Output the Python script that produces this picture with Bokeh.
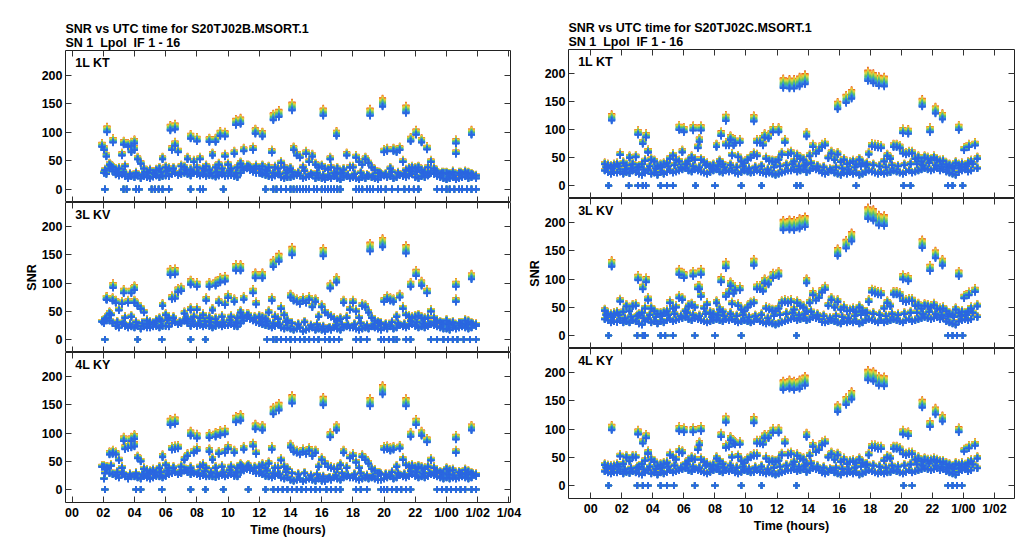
from bokeh.plotting import figure
from bokeh.layouts import row, column
from bokeh.models import Range1d, LinearAxis, FixedTicker, Title, Label, ColumnDataSource
from bokeh.embed import file_html
from bokeh.resources import INLINE

FONT = "Liberation Sans"

# ---------------- IF channels (gain spread and colour) ----------------
IF_GAIN = [1.05, 1.045, 1.04, 1.035, 1.03, 1.02, 1.01, 1.0,
           0.99, 0.98, 0.975, 0.97, 0.965, 0.96, 0.955, 0.95]
IF_COLORS = ["#e2501c", "#f07f20", "#f59f25", "#f2b62d", "#e9cd3a", "#c9d545",
             "#9ccd4f", "#6cc35c", "#4cbb7c", "#3fb39f", "#3aa9bd", "#3a9cd1",
             "#3a8ddc", "#357fe0", "#2f72e2", "#2a66e0"]

X_TICKS = [0, 2, 4, 6, 8, 10, 12, 14, 16, 18, 20, 22, 24, 26, 28]
X_TICK_LABELS = ["00", "02", "04", "06", "08", "10", "12", "14", "16", "18",
                 "20", "22", "1/00", "1/02", "1/04"]
Y_TICKS = [0, 50, 100, 150, 200]

# ---------------- left file: S20TJ02B ----------------
L_BAND_T = [
    2.05, 2.2, 2.4, 2.6, 2.8, 3.0, 3.2, 3.4, 3.6, 3.8,
    4.0, 4.2, 4.4, 4.6, 4.8, 5.0, 5.2, 5.4, 5.6, 5.8,
    6.0, 6.2, 6.4, 6.6, 6.8, 7.0, 7.2, 7.4, 7.6, 7.8,
    8.0, 8.2, 8.4, 8.6, 8.8, 9.0, 9.2, 9.4, 9.6, 9.8,
    10.0, 10.2, 10.4, 10.6, 10.8, 11.0, 11.2, 11.4, 11.6, 11.8,
    12.0, 12.2, 12.4, 12.6, 12.8, 13.0, 13.2, 13.4, 13.6, 13.8,
    14.0, 14.2, 14.4, 14.6, 14.8, 15.0, 15.2, 15.4, 15.6, 15.8,
    16.0, 16.2, 16.4, 16.6, 16.8, 17.0, 17.2, 17.4, 17.6, 17.8,
    18.0, 18.2, 18.4, 18.6, 18.8, 19.0, 19.2, 19.4, 19.6, 19.8,
    20.0, 20.2, 20.4, 20.6, 20.8, 21.0, 21.2, 21.4, 21.6, 21.8,
    22.0, 22.2, 22.4, 22.6, 22.8, 23.0, 23.2, 23.4, 23.6, 23.8,
    24.0, 24.2, 24.4, 24.6, 24.8, 25.0, 25.2, 25.4, 25.6, 25.9,
]
L_MID_T = [
    2.1, 2.5, 2.9, 3.3, 3.7, 4.1, 4.5, 4.9, 5.3, 5.7,
    6.1, 6.5, 6.9, 7.3, 7.7, 8.1, 8.5, 8.9, 9.3, 9.7,
    10.1, 10.5, 10.9, 11.3, 11.7, 12.1, 12.5, 12.9, 13.3, 13.7,
    14.1, 14.5, 14.9, 15.3, 15.7, 16.1, 16.5, 16.9, 17.3, 17.7,
    18.1, 18.5, 18.9, 19.3, 19.7, 20.1, 20.5, 20.9, 21.3, 21.7,
    22.1, 22.5, 22.9, 23.3, 23.7, 24.1, 24.5, 24.9, 25.3, 25.7,
]
L_BRIGHT_T = [1.92, 2.24, 2.63, 3.31, 3.8, 4.0, 6.3, 6.6, 7.6, 8.0, 8.8, 9.2, 9.5,
              9.8, 10.5, 10.8, 11.75, 12.2, 12.9, 13.25, 14.1, 16.1, 16.55, 16.95,
              19.1, 19.9, 21.4, 21.7, 22.05, 22.4, 22.75, 24.6, 25.6]

KT_L_LO = [
    30, 28, 38, 33, 27, 25, 27, 24, 20, 24,
    22, 25, 20, 24, 22, 20, 23, 25, 22, 24,
    25, 24, 28, 30, 26, 28, 30, 28, 25, 30,
    28, 25, 27, 24, 26, 25, 23, 25, 27, 24,
    25, 26, 24, 22, 30, 35, 38, 35, 32, 30,
    30, 28, 26, 24, 22, 25, 28, 22, 20, 22,
    22, 24, 26, 25, 20, 22, 24, 26, 20, 22,
    20, 18, 22, 20, 24, 20, 18, 22, 24, 20,
    22, 20, 18, 22, 20, 24, 22, 20, 18, 22,
    25, 22, 24, 20, 22, 26, 24, 22, 25, 28,
    22, 20, 24, 22, 25, 30, 28, 24, 22, 20,
    18, 20, 22, 18, 20, 22, 24, 20, 22, 20,
]
KT_L_MID = [
    35, 42, 30, 32, 28, 30, 27, 30, 28, 32,
    34, 38, 30, 36, 32, 30, 34, 30, 32, 30,
    34, 30, 40, 42, 38, 30, 34, 30, 28, 30,
    32, 30, 34, 28, 30, 26, 24, 28, 30, 26,
    28, 30, 26, 24, 30, 28, 32, 30, 28, 34,
    32, 30, 28, 34, 30, 28, 26, 30, 28, 26,
]
KT_L_HI = [
    72, 60, 45, 40, 36, 38, 62, 42, 78, 68,
    72, 55, 47, 38, 32, 35, 30, 35, 38, 55,
    40, 38, 72, 80, 68, 42, 40, 55, 36, 50,
    40, 55, 38, 42, 36, 62, 40, 45, 38, 60,
    45, 38, 65, 40, 47, 70, 42, 40, 72, 42,
    38, 42, 36, 40, 67, 40, 38, 48, 40, 35,
    38, 72, 62, 58, 40, 65, 50, 60, 45, 40,
    42, 38, 36, 40, 30, 38, 30, 36, 62, 40,
    40, 58, 50, 45, 55, 48, 40, 35, 30, 28,
    68, 70, 38, 70, 68, 72, 50, 35, 38, 40,
    38, 40, 35, 32, 40, 50, 38, 30, 28, 30,
    30, 28, 32, 65, 30, 28, 32, 30, 28, 25,
]
KT_L_BRIGHT = [78, 105, 86, 82, 80, 84, 108, 110, 93, 88, 87, 87, 98, 97, 118, 120,
               102, 97, 127, 133, 145, 135, 55, 98, 135, 152, 140, 88, 100, 86, 73, 84, 100]
KT_L_ZERO = [2.1, 3.3, 3.5, 4.1, 4.3, 5.1, 5.3, 5.55, 5.8, 6.2, 7.6, 8.2, 8.4, 9.7, 12.4,
             12.9, 13.1, 13.4, 13.7, 14.0, 14.2, 14.4, 14.6, 14.8, 15.0, 15.2, 15.5, 15.7,
             16.0, 16.2, 16.4, 16.6, 16.8, 17.0, 17.2, 18.2, 18.4, 18.6, 18.9, 19.1, 19.3,
             19.6, 19.8, 20.1, 20.5, 20.9, 21.3, 21.6, 21.9, 22.2, 23.4, 23.7, 24.0, 24.2,
             24.5, 24.8, 25.0, 25.3, 25.6, 25.9]

KV_L_LO = [
    30, 40, 35, 30, 25, 22, 28, 25, 22, 24,
    22, 25, 20, 24, 22, 22, 24, 25, 22, 25,
    25, 24, 30, 32, 28, 30, 35, 30, 25, 28,
    25, 27, 24, 26, 25, 22, 25, 27, 24, 26,
    26, 28, 25, 24, 30, 35, 40, 38, 35, 32,
    30, 28, 26, 25, 22, 25, 28, 22, 20, 22,
    20, 18, 20, 22, 15, 18, 20, 22, 18, 20,
    18, 15, 20, 18, 22, 20, 18, 22, 24, 22,
    22, 20, 18, 20, 22, 20, 24, 22, 20, 18,
    22, 20, 24, 20, 22, 26, 24, 22, 25, 28,
    25, 22, 24, 22, 25, 28, 26, 24, 22, 20,
    20, 18, 22, 20, 22, 24, 22, 20, 22, 25,
]
KV_L_MID = [
    38, 45, 32, 30, 28, 32, 30, 28, 30, 34,
    36, 40, 32, 38, 34, 30, 34, 32, 30, 32,
    36, 32, 42, 45, 40, 32, 34, 30, 28, 32,
    30, 28, 32, 26, 28, 24, 22, 26, 28, 26,
    28, 30, 26, 25, 30, 28, 32, 30, 28, 34,
    32, 30, 28, 32, 30, 28, 26, 30, 28, 28,
]
KV_L_HI = [
    33, 74, 48, 72, 68, 54, 66, 40, 68, 42,
    68, 62, 57, 50, 35, 32, 30, 35, 38, 62,
    45, 40, 75, 76, 88, 90, 48, 38, 55, 42,
    55, 40, 45, 72, 40, 54, 38, 68, 42, 64,
    77, 42, 70, 40, 50, 74, 45, 40, 86, 65,
    42, 40, 38, 50, 72, 42, 38, 57, 45, 35,
    78, 72, 70, 66, 72, 68, 74, 60, 70, 42,
    60, 50, 45, 42, 38, 35, 38, 68, 40, 55,
    68, 52, 40, 62, 60, 50, 40, 35, 32, 30,
    70, 75, 72, 70, 42, 78, 57, 45, 42, 40,
    42, 44, 40, 38, 40, 52, 40, 35, 32, 30,
    35, 30, 32, 70, 30, 28, 35, 33, 30, 28,
]
KV_L_BRIGHT = [33, 74, 96, 86, 86, 92, 120, 121, 102, 98, 98, 100, 106, 108, 128, 128,
               114, 114, 135, 145, 157, 155, 95, 106, 164, 172, 160, 98, 118, 100, 86, 98, 112]
KV_L_ZERO = [2.1, 4.2, 5.75, 7.6, 8.55, 12.5, 12.9, 13.1, 13.4, 13.7, 14.0, 14.3, 14.6,
             14.9, 15.2, 15.5, 15.8, 16.2, 16.5, 16.8, 17.1, 18.2, 18.5, 18.9, 19.8, 20.0,
             20.3, 20.6, 20.8, 21.4, 21.7, 23.0, 23.4, 23.8, 24.1, 24.4, 24.7, 25.1, 25.5, 25.9]

KY_L_LO = [
    20, 38, 30, 28, 25, 22, 28, 24, 20, 24,
    24, 22, 20, 25, 22, 20, 22, 25, 24, 22,
    25, 28, 30, 32, 28, 30, 35, 32, 28, 30,
    28, 25, 26, 24, 25, 24, 23, 25, 27, 24,
    26, 28, 25, 24, 32, 35, 38, 36, 34, 30,
    30, 28, 25, 24, 22, 25, 28, 22, 20, 22,
    18, 16, 18, 20, 15, 18, 20, 18, 16, 20,
    16, 15, 20, 18, 22, 20, 18, 22, 24, 22,
    22, 20, 18, 20, 22, 20, 22, 20, 18, 18,
    20, 22, 24, 20, 22, 26, 24, 22, 25, 28,
    25, 22, 24, 22, 25, 28, 26, 24, 22, 20,
    22, 20, 22, 20, 22, 24, 22, 20, 22, 25,
]
KY_L_MID = [
    30, 44, 32, 30, 28, 30, 28, 30, 28, 32,
    35, 40, 32, 36, 33, 30, 34, 32, 30, 32,
    36, 32, 42, 44, 40, 32, 35, 30, 28, 32,
    30, 28, 30, 26, 28, 24, 22, 26, 30, 26,
    28, 30, 26, 24, 30, 28, 32, 30, 28, 34,
    32, 30, 30, 32, 30, 28, 26, 30, 28, 28,
]
KY_L_HI = [
    42, 40, 65, 66, 65, 54, 40, 75, 77, 78,
    80, 58, 52, 38, 35, 33, 36, 32, 40, 60,
    45, 40, 74, 75, 76, 42, 55, 62, 40, 68,
    72, 42, 45, 40, 70, 55, 40, 66, 42, 68,
    75, 42, 68, 40, 45, 74, 42, 40, 80, 66,
    42, 45, 40, 48, 74, 40, 40, 54, 42, 38,
    78, 70, 68, 65, 70, 66, 72, 62, 68, 42,
    55, 48, 42, 40, 38, 38, 45, 68, 40, 58,
    62, 50, 40, 60, 55, 48, 38, 35, 30, 28,
    74, 75, 72, 74, 42, 76, 55, 45, 42, 44,
    40, 42, 40, 38, 42, 54, 40, 35, 32, 30,
    38, 35, 36, 68, 32, 30, 36, 33, 30, 28,
]
KY_L_BRIGHT = [42, 40, 68, 90, 90, 94, 120, 122, 100, 95, 96, 98, 101, 103, 125, 128,
               112, 110, 140, 147, 160, 157, 97, 110, 155, 177, 155, 98, 120, 100, 88, 93, 110]
KY_L_ZERO = [2.1, 4.1, 4.4, 5.75, 7.6, 8.55, 9.7, 11.3, 12.4, 12.9, 13.2, 13.5, 13.8, 14.1,
             14.4, 14.7, 15.0, 15.3, 15.6, 15.9, 16.3, 16.6, 16.9, 17.2, 18.2, 18.5, 18.9,
             19.8, 20.0, 20.2, 20.5, 20.8, 21.1, 21.4, 21.7, 23.4, 23.7, 24.0, 24.3, 24.6,
             24.9, 25.2, 25.6, 25.9]

# ---------------- right file: S20TJ02C ----------------
R_BAND_T = [
    0.9, 1.1, 1.3, 1.5, 1.7, 1.9, 2.1, 2.3, 2.5, 2.7,
    2.9, 3.1, 3.3, 3.5, 3.7, 3.9, 4.1, 4.3, 4.5, 4.7,
    4.9, 5.1, 5.3, 5.5, 5.7, 5.9, 6.1, 6.3, 6.5, 6.7,
    6.9, 7.1, 7.3, 7.5, 7.7, 7.9, 8.1, 8.3, 8.5, 8.7,
    8.9, 9.1, 9.3, 9.5, 9.7, 9.9, 10.1, 10.3, 10.5, 10.7,
    10.9, 11.1, 11.3, 11.5, 11.7, 11.9, 12.1, 12.3, 12.5, 12.7,
    12.9, 13.1, 13.3, 13.5, 13.7, 13.9, 14.1, 14.3, 14.5, 14.7,
    14.9, 15.1, 15.3, 15.5, 15.7, 15.9, 16.1, 16.3, 16.5, 16.7,
    16.9, 17.1, 17.3, 17.5, 17.7, 17.9, 18.1, 18.3, 18.5, 18.7,
    18.9, 19.1, 19.3, 19.5, 19.7, 19.9, 20.1, 20.3, 20.5, 20.7,
    20.9, 21.1, 21.3, 21.5, 21.7, 21.9, 22.1, 22.3, 22.5, 22.7,
    22.9, 23.1, 23.3, 23.5, 23.7, 23.9, 24.1, 24.3, 24.5, 24.9,
]
R_MID_T = [
    1.0, 1.4, 1.8, 2.2, 2.6, 3.0, 3.4, 3.8, 4.2, 4.6,
    5.0, 5.4, 5.8, 6.2, 6.6, 7.0, 7.4, 7.8, 8.2, 8.6,
    9.0, 9.4, 9.8, 10.2, 10.6, 11.0, 11.4, 11.8, 12.2, 12.6,
    13.0, 13.4, 13.8, 14.2, 14.6, 15.0, 15.4, 15.8, 16.2, 16.6,
    17.0, 17.4, 17.8, 18.2, 18.6, 19.0, 19.4, 19.8, 20.2, 20.6,
    21.0, 21.4, 21.8, 22.2, 22.6, 23.0, 23.4, 23.8, 24.2, 24.6,
]
R_BRIGHT_T = [1.35, 3.05, 3.35, 3.57, 3.7, 5.7, 6.0, 6.6, 7.0, 7.1, 8.4, 8.7, 9.0, 9.2,
              9.6, 10.5, 10.7, 11.2, 11.45, 11.75, 12.1, 12.4, 12.8, 13.1, 13.45, 13.8,
              13.9, 15.9, 16.45, 16.8, 17.85, 18.2, 18.55, 18.9, 20.1, 20.45, 21.35,
              21.85, 22.2, 22.65, 23.7, 24.05, 24.35, 24.75]

KT_R_LO = [
    28, 25, 22, 25, 24, 26, 22, 25, 23, 28,
    25, 22, 20, 24, 28, 22, 24, 20, 25, 22,
    25, 28, 24, 26, 28, 30, 32, 28, 26, 30,
    28, 26, 24, 22, 25, 28, 30, 26, 24, 28,
    26, 28, 24, 22, 25, 28, 26, 24, 25, 28,
    25, 24, 22, 24, 22, 20, 22, 24, 26, 28,
    28, 30, 26, 28, 30, 25, 28, 32, 30, 28,
    24, 22, 25, 28, 24, 22, 20, 24, 22, 25,
    22, 24, 20, 22, 25, 28, 26, 24, 22, 25,
    22, 24, 25, 28, 26, 24, 22, 25, 28, 24,
    26, 28, 30, 32, 30, 28, 30, 32, 28, 30,
    26, 24, 22, 20, 25, 28, 30, 26, 28, 32,
]
KT_R_MID = [
    34, 32, 36, 30, 32, 34, 30, 36, 32, 34,
    36, 38, 34, 40, 36, 34, 38, 32, 36, 34,
    38, 34, 36, 32, 34, 36, 30, 34, 36, 38,
    40, 36, 38, 42, 36, 34, 30, 34, 32, 30,
    34, 36, 40, 38, 36, 34, 38, 36, 38, 40,
    40, 38, 42, 38, 36, 34, 32, 34, 36, 40,
]
KT_R_HI = [
    40, 38, 36, 38, 40, 57, 42, 38, 52, 40,
    53, 35, 40, 46, 62, 48, 45, 36, 38, 40,
    42, 50, 56, 48, 45, 62, 40, 46, 52, 48,
    70, 48, 44, 40, 36, 38, 72, 45, 40, 75,
    75, 56, 80, 53, 45, 42, 48, 52, 57, 55,
    80, 75, 50, 46, 45, 44, 48, 58, 80, 57,
    60, 45, 55, 50, 48, 40, 55, 72, 60, 65,
    72, 75, 51, 60, 48, 58, 44, 48, 40, 42,
    45, 40, 48, 42, 38, 58, 73, 72, 71, 70,
    45, 55, 50, 72, 72, 70, 60, 58, 60, 60,
    50, 52, 45, 52, 50, 48, 52, 48, 45, 46,
    40, 38, 35, 42, 38, 40, 35, 42, 45, 50,
]
KT_R_BRIGHT = [122, 95, 78, 90, 62, 104, 100, 103, 82, 103, 93, 121, 86, 75, 80, 120, 80,
               90, 88, 100, 100, 183, 182, 182, 186, 190, 92, 143, 155, 163, 196, 192, 187,
               186, 98, 97, 148, 100, 135, 124, 104, 66, 72, 75]
KT_R_ZERO = [1.15, 2.45, 3.05, 3.35, 3.55, 4.5, 4.9, 5.3, 6.75, 8.0, 9.7, 11.0, 13.25,
             13.5, 17.1, 20.15, 20.6, 23.0, 23.3, 23.95]

KV_R_LO = [
    30, 28, 24, 26, 25, 28, 24, 26, 24, 28,
    26, 22, 20, 26, 30, 24, 26, 22, 26, 24,
    28, 30, 26, 28, 30, 32, 34, 30, 28, 32,
    30, 28, 26, 24, 26, 28, 30, 28, 26, 30,
    28, 30, 26, 24, 26, 28, 26, 24, 26, 30,
    26, 24, 22, 24, 22, 20, 22, 24, 26, 28,
    30, 32, 28, 30, 32, 28, 30, 34, 32, 30,
    25, 24, 26, 28, 26, 24, 22, 26, 24, 26,
    24, 26, 22, 24, 28, 30, 28, 26, 24, 28,
    24, 26, 28, 30, 28, 26, 24, 28, 30, 26,
    28, 30, 32, 34, 32, 30, 32, 34, 30, 32,
    26, 24, 22, 20, 26, 28, 30, 28, 30, 34,
]
KV_R_MID = [
    38, 34, 38, 32, 35, 36, 32, 38, 34, 36,
    38, 40, 36, 42, 38, 36, 40, 34, 38, 36,
    40, 36, 38, 34, 36, 38, 32, 36, 38, 40,
    42, 38, 40, 44, 38, 36, 32, 36, 34, 32,
    36, 38, 42, 40, 38, 36, 40, 38, 40, 42,
    42, 40, 44, 40, 38, 36, 34, 36, 38, 42,
]
KV_R_HI = [
    46, 40, 38, 40, 42, 63, 44, 54, 45, 54,
    55, 38, 42, 50, 65, 50, 45, 40, 40, 42,
    45, 60, 50, 52, 69, 66, 45, 54, 56, 52,
    86, 72, 50, 57, 42, 40, 60, 48, 44, 72,
    78, 58, 84, 55, 48, 45, 52, 58, 60, 86,
    86, 82, 50, 48, 46, 45, 50, 60, 62, 60,
    62, 48, 60, 55, 52, 45, 60, 75, 65, 70,
    80, 85, 55, 66, 52, 62, 48, 52, 45, 46,
    48, 44, 52, 46, 42, 62, 80, 78, 76, 75,
    50, 60, 54, 76, 76, 74, 64, 62, 64, 64,
    55, 56, 50, 55, 54, 52, 56, 50, 48, 50,
    45, 40, 38, 48, 42, 44, 38, 45, 50, 54,
]
KV_R_BRIGHT = [128, 103, 86, 99, 66, 113, 107, 110, 86, 113, 99, 125, 92, 78, 84, 130, 86,
               97, 95, 107, 110, 196, 197, 196, 199, 202, 97, 148, 162, 175, 217, 214, 205,
               204, 104, 101, 163, 120, 144, 130, 110, 69, 75, 81]
KV_R_ZERO = [1.15, 3.0, 3.35, 3.5, 4.5, 4.8, 5.3, 6.7, 8.0, 9.7, 13.25, 23.0, 23.3, 23.6, 23.95]

KY_R_LO = [
    26, 24, 22, 25, 24, 26, 22, 25, 23, 26,
    24, 22, 20, 24, 28, 22, 24, 20, 24, 22,
    25, 28, 24, 26, 28, 30, 32, 28, 26, 30,
    28, 26, 24, 22, 25, 28, 30, 26, 24, 28,
    26, 28, 24, 22, 25, 28, 26, 24, 25, 28,
    25, 24, 22, 24, 22, 20, 22, 24, 26, 28,
    28, 30, 26, 28, 30, 25, 28, 32, 30, 28,
    24, 22, 25, 28, 24, 22, 20, 24, 22, 25,
    22, 24, 20, 22, 25, 28, 26, 24, 22, 25,
    22, 24, 25, 28, 26, 24, 22, 25, 28, 24,
    26, 28, 30, 32, 30, 28, 30, 32, 28, 30,
    26, 24, 22, 20, 25, 28, 30, 26, 28, 32,
]
KY_R_MID = [
    33, 31, 35, 30, 32, 33, 30, 35, 31, 33,
    35, 37, 33, 39, 35, 33, 37, 31, 35, 33,
    37, 33, 35, 31, 33, 35, 30, 33, 35, 37,
    39, 35, 37, 41, 35, 33, 30, 33, 31, 30,
    33, 35, 39, 37, 35, 33, 37, 35, 37, 39,
    39, 37, 41, 37, 35, 33, 31, 33, 35, 39,
]
KY_R_HI = [
    38, 36, 35, 36, 38, 54, 40, 52, 45, 52,
    52, 35, 40, 46, 58, 48, 44, 36, 38, 40,
    42, 56, 52, 48, 62, 60, 40, 46, 50, 48,
    66, 48, 44, 40, 36, 38, 50, 45, 40, 70,
    72, 52, 76, 53, 45, 42, 48, 52, 55, 55,
    78, 76, 50, 44, 45, 44, 46, 56, 78, 56,
    58, 44, 55, 50, 48, 40, 55, 72, 62, 66,
    75, 78, 52, 58, 48, 56, 44, 48, 40, 44,
    45, 42, 48, 42, 38, 56, 70, 70, 68, 68,
    46, 52, 50, 68, 68, 66, 58, 56, 58, 58,
    48, 50, 45, 48, 46, 46, 48, 46, 44, 44,
    40, 38, 35, 40, 38, 40, 36, 42, 45, 50,
]
KY_R_BRIGHT = [103, 95, 78, 88, 60, 101, 99, 99, 75, 101, 90, 117, 84, 78, 76, 116, 78,
               88, 88, 98, 98, 178, 180, 178, 180, 186, 90, 137, 150, 160, 196, 194, 186,
               185, 95, 92, 145, 109, 132, 119, 99, 63, 69, 74]
KY_R_ZERO = [1.15, 3.0, 3.35, 3.7, 4.5, 4.9, 5.35, 6.7, 8.0, 9.7, 11.0, 13.25, 20.15,
             20.7, 23.0, 23.3, 23.6, 23.9]


def build_source(band_t, lo, hi, mid_t, mid, bright_t, bright, zeros):
    xs, ys, cs = [], [], []
    for g, col in zip(IF_GAIN, IF_COLORS):
        for t, v in zip(band_t, lo):
            xs.append(t); ys.append(v * g); cs.append(col)
        for t, v in zip(mid_t, mid):
            xs.append(t); ys.append(v * g); cs.append(col)
        for t, v in zip(band_t, hi):
            xs.append(t); ys.append(v * g); cs.append(col)
        for t, v in zip(bright_t, bright):
            xs.append(t); ys.append(v * g); cs.append(col)
        for t in zeros:
            xs.append(t); ys.append(0.0); cs.append(col)
    return ColumnDataSource(dict(x=xs, y=ys, c=cs))


def axis(ticks, show, overrides=None, label=None):
    ax = LinearAxis(ticker=FixedTicker(ticks=ticks))
    ax.major_tick_in = 6
    ax.major_tick_out = 0
    ax.minor_tick_line_color = None
    ax.axis_line_color = None
    ax.major_tick_line_color = "#333333"
    ax.major_tick_line_width = 1
    ax.major_label_text_font = FONT
    ax.major_label_text_font_style = "bold"
    if show:
        ax.major_label_text_color = "black"
        ax.major_label_text_font_size = "12.5px"
        ax.major_label_standoff = 3
    else:
        ax.major_label_text_color = None
        ax.major_label_text_font_size = "0px"
        ax.major_label_standoff = 0
    if overrides:
        ax.major_label_overrides = overrides
    if label:
        ax.axis_label = label
        ax.axis_label_text_font = FONT
        ax.axis_label_text_font_style = "bold"
        ax.axis_label_text_font_size = "12.5px"
        ax.axis_label_text_color = "black"
        ax.axis_label_standoff = 0
    return ax


def make_fig(src, name, xr, width, height, mbl, mbr, mbt, mbb, bottom=False, ylabel=None,
             title=None):
    p = figure(width=width, height=height, x_range=Range1d(*xr), y_range=Range1d(-23, 243),
               output_backend="svg", toolbar_location=None,
               x_axis_location=None, y_axis_location=None,
               min_border_left=mbl, min_border_right=mbr,
               min_border_top=mbt, min_border_bottom=mbb,
               background_fill_color="white", border_fill_color="white",
               outline_line_color="#222222", outline_line_width=1)
    p.grid.visible = False
    p.add_layout(axis(Y_TICKS, True, label=ylabel), "left")
    p.add_layout(axis(Y_TICKS, False), "right")
    p.add_layout(axis(X_TICKS, False), "above")
    overrides = {t: s for t, s in zip(X_TICKS, X_TICK_LABELS)}
    if bottom:
        p.add_layout(axis(X_TICKS, True, overrides=overrides, label="Time (hours)"), "below")
    else:
        p.add_layout(axis(X_TICKS, False), "below")
    if title:
        p.add_layout(Title(text=title, align="left", text_font=FONT,
                           text_font_style="bold", text_font_size="12.5px",
                           text_color="black", text_line_height=1.0, standoff=1), "above")
    p.scatter("x", "y", source=src, marker="cross", size=7, line_width=1.6,
              line_color="c")
    p.add_layout(Label(x=xr[0] + 0.62, y=221, text=name, text_font=FONT,
                       text_font_style="bold", text_font_size="12.5px",
                       text_baseline="middle", text_color="black"))
    return p


LXR = (-0.42, 28.1)
RXR = (-1.43, 27.29)
SUB = "SN 1 \u00a0Lpol \u00a0IF 1 - 16"

l1 = make_fig(build_source(L_BAND_T, KT_L_LO, KT_L_HI, L_MID_T, KT_L_MID,
                           L_BRIGHT_T, KT_L_BRIGHT, KT_L_ZERO),
              "1L KT", LXR, 524, 202, 65, 14, 50, 0,
              title="SNR vs UTC time for S20TJ02B.MSORT.1\n" + SUB)
l2 = make_fig(build_source(L_BAND_T, KV_L_LO, KV_L_HI, L_MID_T, KV_L_MID,
                           L_BRIGHT_T, KV_L_BRIGHT, KV_L_ZERO),
              "3L KV", LXR, 524, 150, 65, 14, 0, 0, ylabel="SNR")
l3 = make_fig(build_source(L_BAND_T, KY_L_LO, KY_L_HI, L_MID_T, KY_L_MID,
                           L_BRIGHT_T, KY_L_BRIGHT, KY_L_ZERO),
              "4L KY", LXR, 524, 188, 65, 14, 0, 38, bottom=True)

r1 = make_fig(build_source(R_BAND_T, KT_R_LO, KT_R_HI, R_MID_T, KT_R_MID,
                           R_BRIGHT_T, KT_R_BRIGHT, KT_R_ZERO),
              "1L KT", RXR, 496, 198, 42, 6, 49, 0,
              title="SNR vs UTC time for S20TJ02C.MSORT.1\n" + SUB)
r2 = make_fig(build_source(R_BAND_T, KV_R_LO, KV_R_HI, R_MID_T, KV_R_MID,
                           R_BRIGHT_T, KV_R_BRIGHT, KV_R_ZERO),
              "3L KV", RXR, 496, 150, 42, 6, 0, 0, ylabel="SNR")
r3 = make_fig(build_source(R_BAND_T, KY_R_LO, KY_R_HI, R_MID_T, KY_R_MID,
                           R_BRIGHT_T, KY_R_BRIGHT, KY_R_ZERO),
              "4L KY", RXR, 496, 192, 42, 6, 0, 42, bottom=True)

layout = row(column(l1, l2, l3), column(r1, r2, r3))
open("out.html", "w").write(file_html(layout, INLINE))
